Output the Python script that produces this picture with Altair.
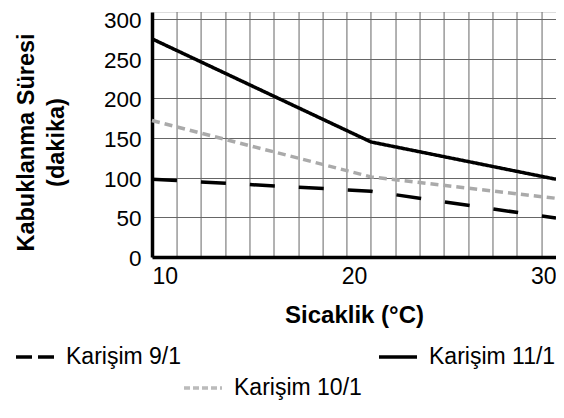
import altair as alt
import pandas as pd

# ---- data ----
sicaklik = [10, 20.84, 30]
karisim_9_1 = [98, 83, 49]
karisim_10_1 = [172, 101, 74]
karisim_11_1 = [275, 145, 98]
series = ["Karişim 9/1", "Karişim 10/1", "Karişim 11/1"]
x_ticks = [10, 20, 30]
y_ticks = [0, 50, 100, 150, 200, 250, 300]
grid_x = [11.24, 12.43, 13.66, 14.85, 16.04, 17.28, 18.47, 19.65, 20.84,
          22.08, 23.27, 24.46, 25.69, 26.88, 28.07, 29.31]

rows = []
for name, vals in zip(series, [karisim_9_1, karisim_10_1, karisim_11_1]):
    for x, v in zip(sicaklik, vals):
        rows.append({"x": x, "y": v, "seri": name, "seri_b": name, "seri_c": name})
df = pd.DataFrame(rows)
grid_df = pd.DataFrame({"g": grid_x})

FONT = "Liberation Sans, Arial, sans-serif"
GRID = "#666666"

xscale = alt.Scale(domain=[10, 30], nice=False, zero=False)
x_axis = alt.Axis(values=x_ticks, title="Sicaklik (°C)", grid=False, ticks=False,
                  labelFlush=True, domainWidth=3.5, domainColor="black",
                  labelFont=FONT, labelFontSize=23, labelColor="black", labelPadding=8,
                  titleFont=FONT, titleFontSize=24, titleFontWeight="bold",
                  titleColor="black", titlePadding=15, zindex=1)

vgrid = alt.Chart(grid_df).mark_rule(color=GRID, strokeWidth=1).encode(
    x=alt.X("g:Q", scale=xscale, axis=x_axis)
)

def leg(val, x, y, **kw):
    return alt.Legend(values=[val], orient="none", legendX=x, legendY=y, title=None,
                      labelFont=FONT, labelFontSize=23, labelColor="black",
                      symbolType="stroke", symbolSize=1444, symbolStrokeWidth=3.5,
                      labelOffset=10, **kw)

lines = alt.Chart(df).mark_line(strokeWidth=3.5, strokeCap="butt").encode(
    x=alt.X("x:Q", scale=xscale, axis=x_axis),
    y=alt.Y("y:Q", scale=alt.Scale(domain=[0, 308.8], nice=False),
            axis=alt.Axis(values=y_ticks, title=["Kabuklanma Süresi", "(dakika)"],
                          grid=True, gridColor=GRID, gridWidth=1, ticks=False,
                          domainWidth=3.5, domainColor="black",
                          labelFont=FONT, labelFontSize=22.5, labelColor="black",
                          labelPadding=11, labelOffset=1.5,
                          titleFont=FONT, titleFontSize=23.5, titleFontWeight="bold",
                          titleColor="black", titleLineHeight=30, titlePadding=35, titleY=130)),
    strokeDash=alt.StrokeDash("seri:N",
                              scale=alt.Scale(domain=series, range=[[25, 24], [8, 5], [1, 0]]),
                              legend=leg("Karişim 11/1", 225, 324,
                                         symbolStrokeColor="black")),
    color=alt.Color("seri_b:N",
                    scale=alt.Scale(domain=[series[2], series[0], series[1]],
                                    range=["black", "black", "#aaaaaa"]),
                    legend=leg("Karişim 9/1", -138, 324, symbolDash=[16, 6])),
    opacity=alt.Opacity("seri_c:N",
                        scale=alt.Scale(domain=[series[1], series[0], series[2]],
                                        range=[1, 1, 1]),
                        legend=leg("Karişim 10/1", 30, 355, symbolDash=[6, 3],
                                   symbolStrokeColor="#bbbbbb")),
)

chart = alt.layer(vgrid, lines).resolve_legend(
    strokeDash="independent", color="independent", opacity="independent"
).properties(
    width=404, height=245,
    autosize=alt.AutoSizeParams(type="none"),
    padding={"left": 144, "top": 4, "right": 0, "bottom": 150},
).configure_view(stroke=None).configure(background="white")

chart.save("out.html", embed_options={"renderer": "svg", "actions": False})
